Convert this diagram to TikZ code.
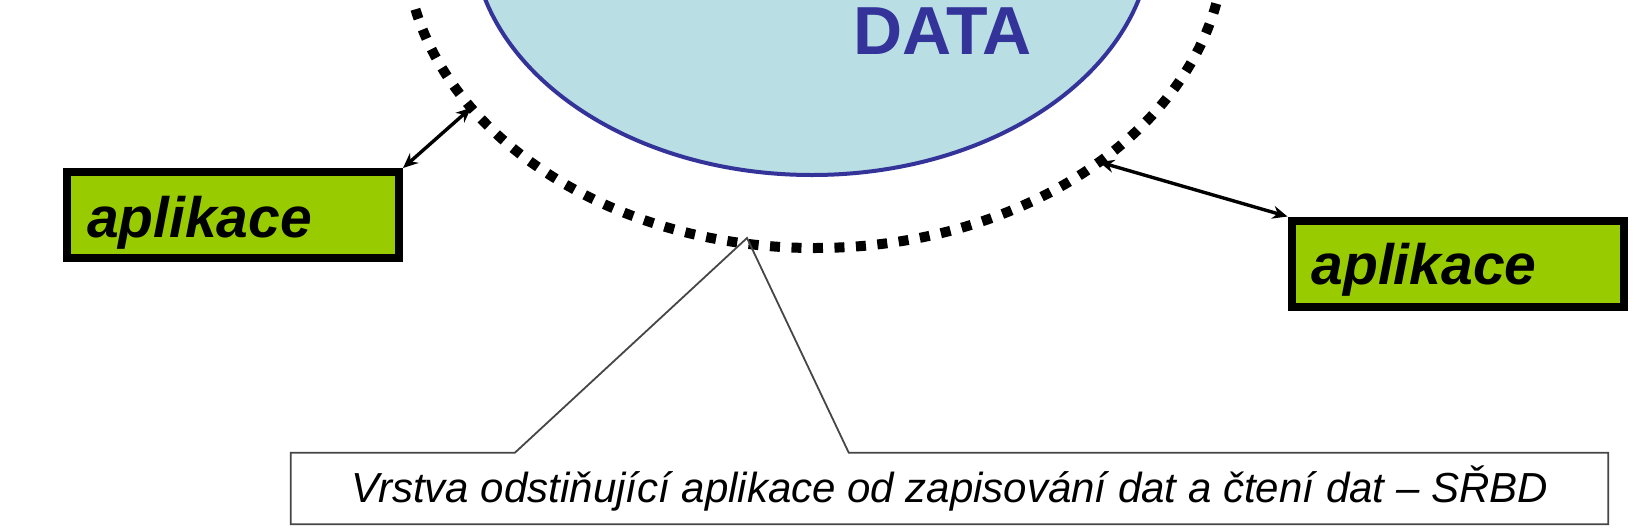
\documentclass[tikz,border=0pt]{standalone}
\usepackage{fontspec}
\setmainfont{Liberation Sans}
\usetikzlibrary{shapes.geometric,arrows.meta,calc}
\definecolor{dbfill}{RGB}{185,223,228}
\definecolor{dbline}{RGB}{51,51,153}
\definecolor{appgreen}{RGB}{153,204,0}
\definecolor{calloutline}{RGB}{70,70,70}
\begin{document}
\begin{tikzpicture}[x=1pt,y=-1pt,
  dbshape/.style={ellipse, draw=dbline, line width=4pt, fill=dbfill, inner sep=0pt, outer sep=0pt, minimum width=680pt, minimum height=486pt},
  layershape/.style={ellipse, draw=black, line width=10pt, dash pattern=on 10pt off 11.5pt, inner sep=0pt, outer sep=0pt, minimum width=820pt, minimum height=616pt},
  appbox/.style={draw=black, fill=appgreen, line width=8pt, minimum width=332pt, minimum height=86pt, inner xsep=0pt, inner ysep=0pt, text width=292pt, align=left, font=\fontsize{57}{60}\selectfont\bfseries\itshape},
  datatext/.style={text=dbline, font=\fontsize{68}{72}\selectfont\bfseries, inner sep=0pt},
  link/.style={{Stealth[length=15pt,width=13pt]}-{Stealth[length=15pt,width=13pt]}, line width=3.4pt},
  calloutbox/.style={fill=white, minimum width=1317pt, minimum height=71pt, inner sep=0pt, font=\fontsize{42}{45}\selectfont\itshape},
  calloutedge/.style={draw=calloutline, line width=1.8pt, line join=miter}
]
\useasboundingbox (0,0) rectangle (1652,531);
\clip (0,0) rectangle (1652,531);
\fill[white] (0,0) rectangle (1652,531);

\node[layershape] (layer) at (815,-60) {};
\node[dbshape] (db) at (812,-68) {};
\node[datatext, anchor=base] (data) at (942.5,54) {DATA};

\node[appbox] (L) at (233,215) {\raisebox{-8pt}[41pt][12pt]{aplikace}};
\node[appbox] (R) at (1457.5,263.5) {\raisebox{-6pt}[41pt][12pt]{aplikace}};

\draw[link] (L.north east) -- (layer.206);
\draw[link] (layer.322.6) -- (R.north west);

\coordinate (tip) at (747,238);
\node[calloutbox] (C) at (949.5,488.5) {Vrstva odstiňující aplikace od zapisování dat a čtení dat – SŘBD};
\draw[calloutedge] ([xshift=224pt]C.north west) -- (tip) -- ([xshift=558pt]C.north west) -- (C.north east) -- (C.south east) -- (C.south west) -- (C.north west) -- cycle;
\end{tikzpicture}
\end{document}
